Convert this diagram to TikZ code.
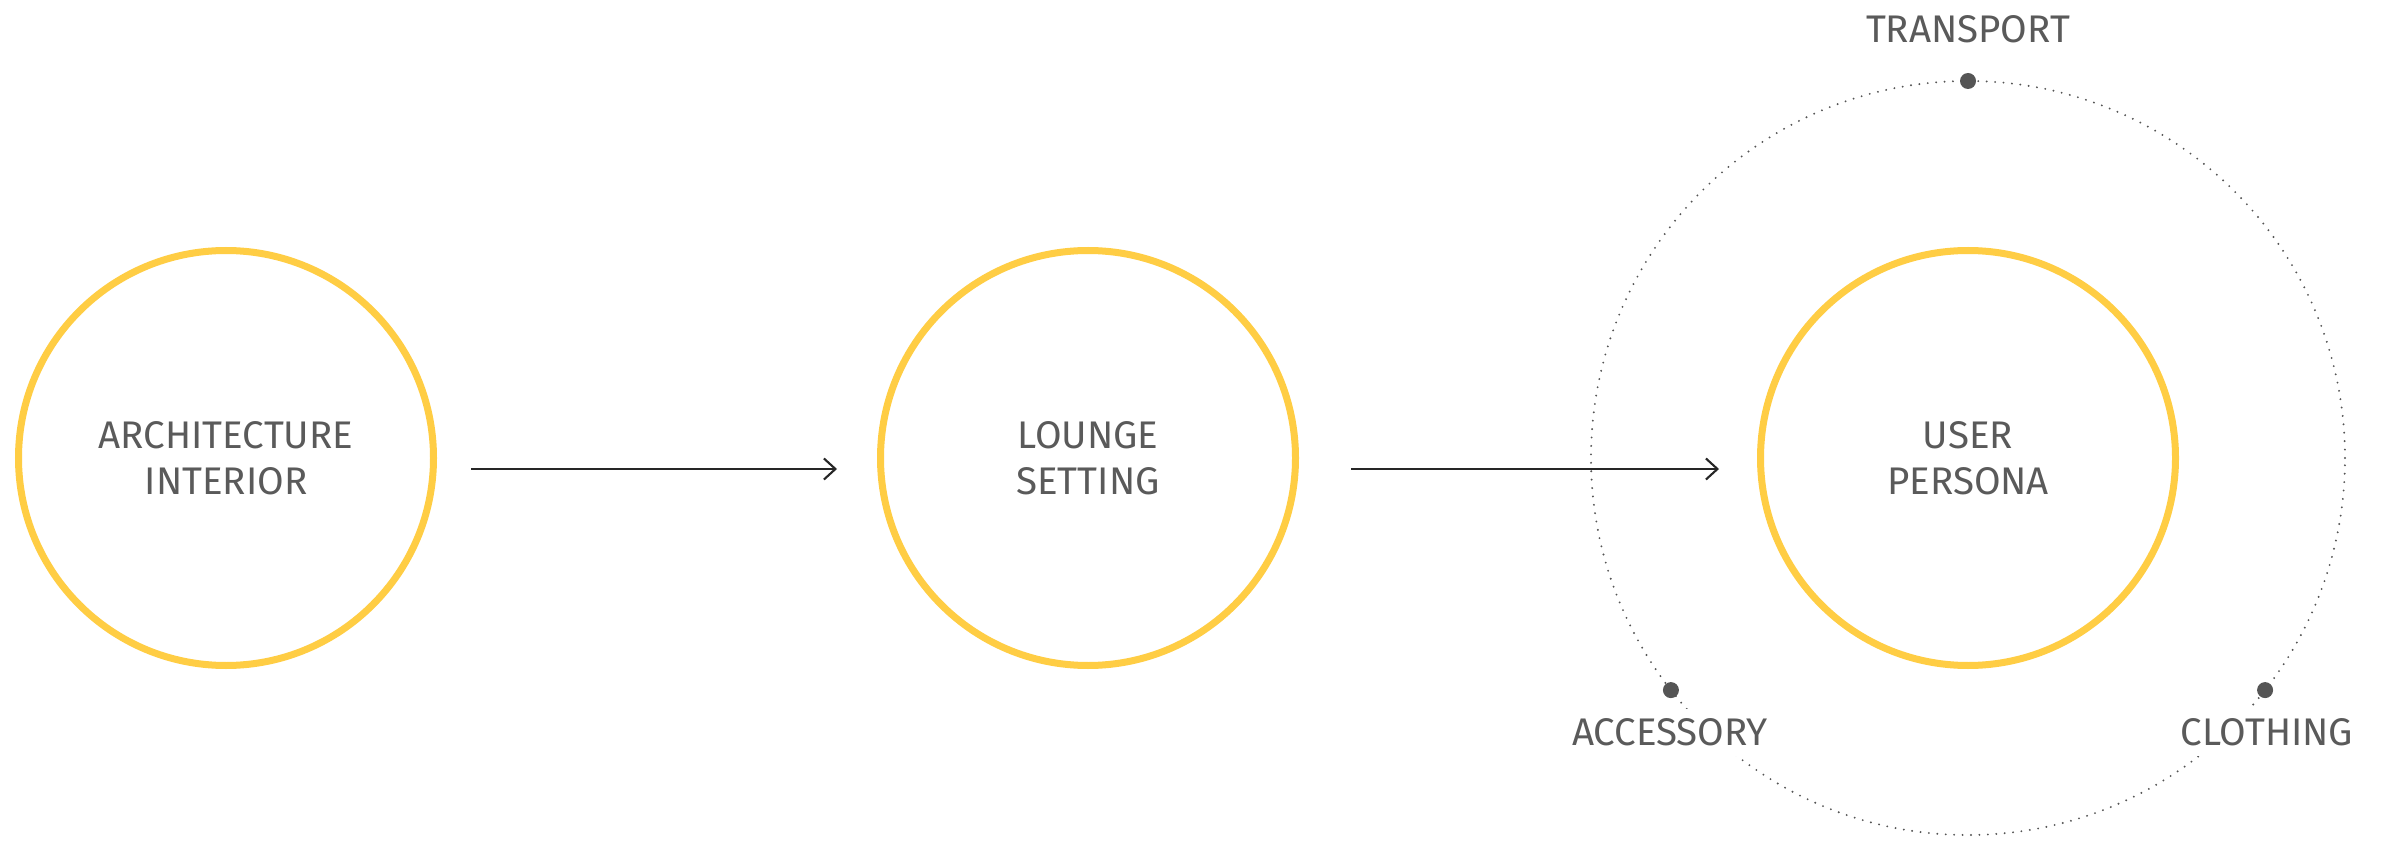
\documentclass[tikz,border=0pt]{standalone}
\usepackage{fontspec}
\setmainfont{Fira Sans}
\usetikzlibrary{arrows.meta}
\definecolor{ochre}{HTML}{FFCD44}
\definecolor{ink}{HTML}{5A5A5A}
\definecolor{dotgray}{HTML}{555555}
\begin{document}
\begin{tikzpicture}[>={Straight Barb[length=0.23cm, width=0.42cm]},
  default/.style={draw=ochre, line width=0.14cm, solid, fill=white, circle, minimum size=8.3cm, inner sep=0pt, text=ink, align=center, font=\fontsize{21.9}{26.4}\selectfont},
  tag/.style={fill=white, inner sep=0.2cm, text=ink, text depth=0pt, font=\fontsize{21.9}{26.4}\selectfont},
  spot/.style={fill=dotgray, circle, minimum size=0.32cm, inner sep=0pt},
  orbit/.style={draw=dotgray, line width=1.2pt, line cap=round, dash pattern=on 0pt off 4.8pt},
  flow/.style={draw=black!85, line width=1.2pt, ->}]
\useasboundingbox (0,0) rectangle (47.66,16.82);
\node[default] (arch) at (4.52, 7.66) {ARCHITECTURE\\INTERIOR};
\node[default] (lounge) at (21.76, 7.66) {LOUNGE\\SETTING};
\node[default] (user) at (39.36, 7.66) {USER\\PERSONA};
\draw [orbit] (user) circle [radius=7.54cm] ;
\draw [flow, shorten <=0.68cm, shorten >=0.80cm] ([yshift=-0.22cm]arch.east) -- ([yshift=-0.22cm]lounge.west) ;
\draw [flow, shorten <=1.04cm, shorten >=0.76cm] ([yshift=-0.22cm]lounge.east) -- ([yshift=-0.22cm]user.west) ;
\node[spot] (transport) at ([shift={(90:7.54)}]user.center) {};
\node[spot] (accessory) at ([shift={(218:7.54)}]user.center) {};
\node[spot] (clothing) at ([shift={(322:7.54)}]user.center) {};
\node[tag] (transportlabel) at (39.36, 16.23) {TRANSPORT};
\node[tag] (accessorylabel) at (33.40, 2.17) {ACCESSORY};
\node[tag] (clothinglabel) at (45.34, 2.17) {CLOTHING};
\end{tikzpicture}
\end{document}
